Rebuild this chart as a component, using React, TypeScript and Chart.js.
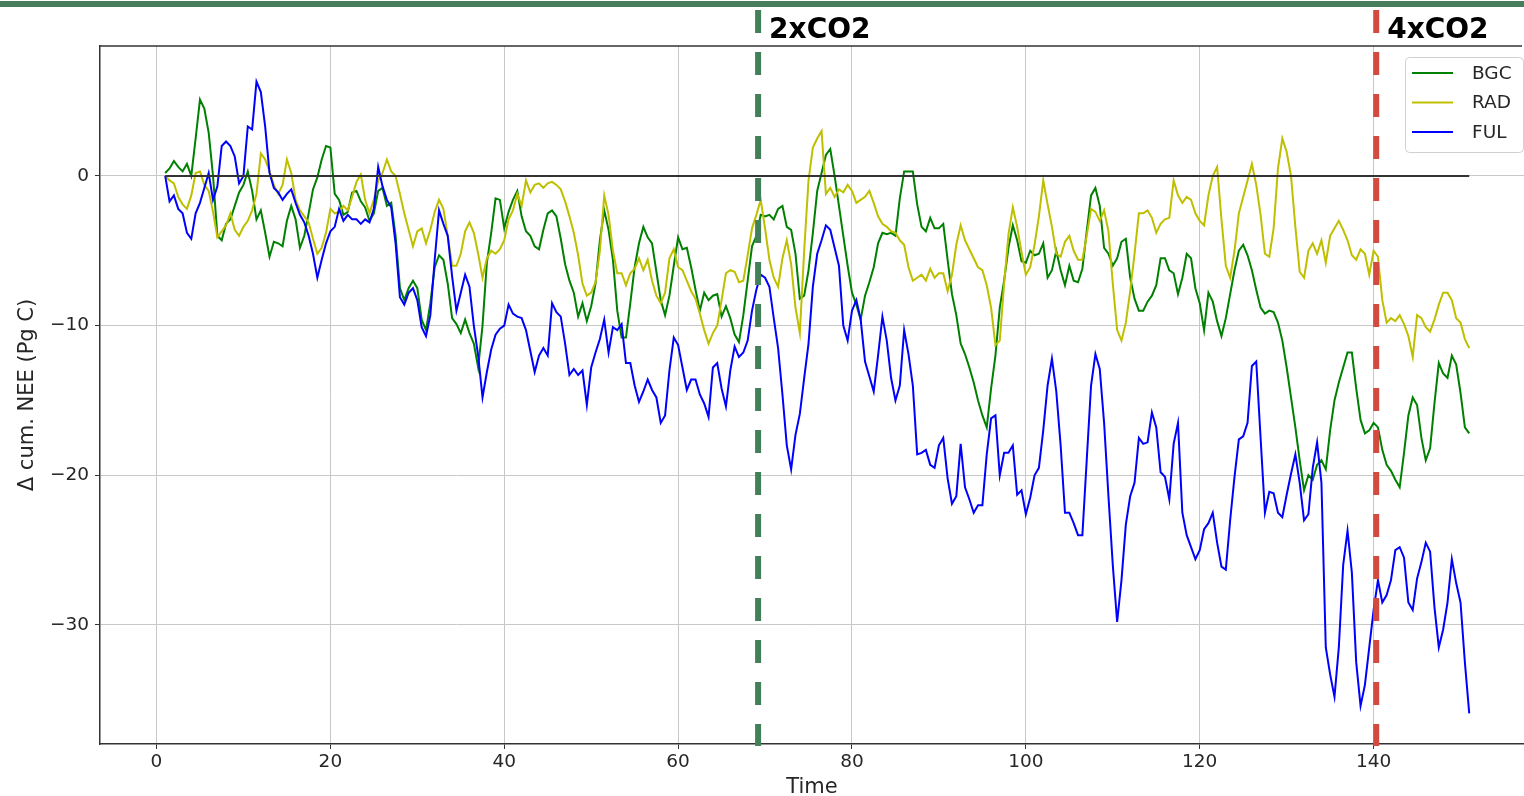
import React, { useEffect, useRef } from "react";
import { Chart, registerables } from "chart.js";

Chart.register(...registerables);

// Time axis of the series: years 1 .. 151, half-year samples
const YEAR_START = 1;
const YEAR_STEP = 0.5;

// Δ cumulative NEE (Pg C)
const BGC = [
  0.2, 0.5, 1.0, 0.6, 0.3, 0.8, 0.0, 2.5, 5.1, 4.5,
  2.9, 0.0, -4.0, -4.3, -3.2, -2.9, -2.0, -1.1, -0.6, 0.3,
  -1.0, -2.9, -2.3, -3.8, -5.4, -4.4, -4.5, -4.7, -3.0, -2.0,
  -2.9, -4.8, -4.0, -2.5, -0.9, -0.1, 1.1, 2.0, 1.9, -1.2,
  -1.6, -2.6, -2.4, -1.1, -1.0, -1.7, -2.1, -3.0, -2.5, -1.0,
  -0.8, -2.0, -1.8, -4.0, -7.5, -8.3, -7.5, -7.0, -7.5, -9.6,
  -10.3, -8.5, -6.1, -5.3, -5.6, -7.2, -9.5, -9.9, -10.5, -9.6,
  -10.5, -11.2, -12.8, -10.0, -5.8, -3.8, -1.5, -1.6, -3.5, -2.4,
  -1.6, -1.0, -2.7, -3.7, -4.0, -4.7, -4.9, -3.6, -2.5, -2.3,
  -2.7, -4.2, -5.9, -7.0, -7.8, -9.4, -8.5, -9.7, -8.7, -7.2,
  -4.3, -2.3, -3.6, -5.6, -9.0, -10.8, -10.8, -8.5, -6.1, -4.5,
  -3.4, -4.1, -4.5, -6.4, -8.3, -9.3, -8.0, -6.0, -4.1, -4.9,
  -4.8, -6.1, -7.6, -9.0, -7.8, -8.3, -8.0, -7.9, -9.4, -8.7,
  -9.5, -10.6, -11.1, -9.3, -7.0, -4.7, -4.0, -2.6, -2.7, -2.6,
  -2.9, -2.2, -2.0, -3.4, -3.6, -5.2, -8.2, -8.0, -6.3, -3.8,
  -1.0, 0.2, 1.4, 1.8, 0.0, -2.0, -4.0, -6.0, -7.8, -8.6,
  -9.6, -8.0, -7.1, -6.1, -4.5, -3.8, -3.9, -3.8, -4.0, -1.5,
  0.3, 0.3, 0.3, -1.9, -3.4, -3.7, -2.8, -3.5, -3.5, -3.2,
  -5.6, -7.9, -9.3, -11.2, -11.9, -12.8, -13.8, -15.0, -16.0, -16.8,
  -14.2, -12.0, -8.8, -7.0, -4.8, -3.3, -4.3, -5.7, -5.8, -5.0,
  -5.3, -5.2, -4.5, -6.8, -6.3, -5.0, -6.3, -7.3, -6.0, -7.0,
  -7.1, -6.2, -3.7, -1.3, -0.8, -2.0, -4.8, -5.2, -6.0, -5.5,
  -4.4, -4.2, -6.8, -8.2, -9.0, -9.0, -8.4, -8.0, -7.3, -5.5,
  -5.5, -6.3, -6.5, -7.9, -6.8, -5.2, -5.5, -7.5, -8.5, -10.3,
  -7.8, -8.4, -9.7, -10.7, -9.5, -7.9, -6.3, -5.0, -4.6, -5.3,
  -6.3, -7.6, -8.8, -9.2, -9.0, -9.1, -9.8, -11.0, -12.8, -14.8,
  -16.8, -19.0, -21.0, -20.0, -20.3, -19.3, -19.0, -19.6, -17.0, -15.0,
  -13.8, -12.8, -11.8, -11.8, -14.2, -16.3, -17.2, -17.0, -16.5, -16.8,
  -18.3, -19.3, -19.7, -20.3, -20.8, -18.5, -16.0, -14.8, -15.3, -17.5,
  -19.0, -18.2, -15.2, -12.5, -13.2, -13.5, -12.0, -12.6, -14.5, -16.8,
  -17.2,
];

const RAD = [
  0.0, -0.3, -0.5, -1.4, -1.9, -2.2, -1.3, 0.2, 0.3, -0.6,
  -1.0, -2.4, -4.1, -3.7, -3.3, -2.5, -3.6, -4.0, -3.4, -3.0,
  -2.3, -1.2, 1.5, 1.1, 0.3, -0.6, -1.2, -0.6, 1.1, 0.2,
  -1.6, -2.3, -2.7, -3.1, -4.2, -5.2, -4.8, -3.8, -2.2, -2.5,
  -2.4, -2.0, -2.3, -1.4, -0.4, 0.1, -1.6, -2.5, -1.6, -0.3,
  0.2, 1.1, 0.3, 0.0, -1.2, -2.5, -3.6, -4.7, -3.7, -3.5,
  -4.5, -3.6, -2.4, -1.6, -2.2, -4.0, -6.0, -6.0, -5.2, -3.7,
  -3.1, -3.8, -5.2, -6.8, -5.5, -5.0, -5.2, -4.9, -4.3, -2.9,
  -2.3, -1.2, -2.0, -0.3, -1.1, -0.6, -0.5, -0.8, -0.5, -0.4,
  -0.6, -0.9, -1.7, -2.7, -3.8, -5.3, -7.2, -8.0, -7.8, -7.1,
  -5.0, -1.3, -2.6, -5.0, -6.5, -6.5, -7.3, -6.5, -6.2, -5.5,
  -6.3, -5.6, -7.0, -8.0, -8.5, -7.8, -5.5, -4.9, -6.1, -6.3,
  -7.0, -7.7, -8.2, -9.2, -10.3, -11.2, -10.5, -10.0, -8.3, -6.5,
  -6.3, -6.4, -7.1, -7.0, -5.3, -3.5, -2.6, -1.6, -3.5, -5.6,
  -6.8, -7.4, -5.5, -4.3, -5.9, -8.8, -10.5, -5.0, -0.3, 1.9,
  2.5, 3.0, -1.2, -0.8, -1.4, -0.9, -1.1, -0.6, -1.0, -1.8,
  -1.6, -1.4, -1.0, -1.8, -2.7, -3.2, -3.4, -3.7, -3.8, -4.3,
  -4.6, -6.1, -7.0, -6.8, -6.6, -7.0, -6.2, -6.8, -6.5, -6.5,
  -7.7, -6.6, -4.6, -3.3, -4.3, -4.9, -5.5, -6.1, -6.3, -7.3,
  -8.8, -11.3, -11.0, -7.2, -3.9, -2.1, -3.4, -5.1, -6.6, -6.1,
  -4.6, -2.7, -0.3, -1.9, -3.4, -5.2, -5.4, -4.4, -4.0, -5.0,
  -5.6, -5.6, -4.0, -2.2, -2.4, -3.0, -2.3, -3.7, -7.2, -10.3,
  -11.0, -9.8, -7.7, -5.2, -2.5, -2.5, -2.3, -2.8, -3.8, -3.2,
  -2.9, -2.8, -0.3, -1.3, -1.8, -1.4, -1.6, -2.5, -3.0, -3.3,
  -1.3, 0.0, 0.6, -2.9, -6.0, -6.8, -5.0, -2.5, -1.4, -0.3,
  0.8, -0.6, -2.6, -5.2, -5.4, -3.5, 0.5, 2.5, 1.6, 0.0,
  -3.4, -6.4, -6.8, -5.0, -4.5, -5.2, -4.3, -5.8, -4.0, -3.5,
  -3.0, -3.6, -4.3, -5.3, -5.6, -4.9, -5.2, -6.6, -5.0, -5.4,
  -8.3, -9.8, -9.5, -9.7, -9.3, -9.9, -10.7, -12.1, -9.3, -9.5,
  -10.1, -10.4, -9.6, -8.6, -7.8, -7.8, -8.3, -9.5, -9.8, -10.9,
  -11.5,
];

const FUL = [
  0.0, -1.7, -1.3, -2.2, -2.5, -3.8, -4.2, -2.5, -1.8, -0.8,
  0.2, -1.6, -0.7, 2.0, 2.3, 2.0, 1.3, -0.5, 0.0, 3.3,
  3.1, 6.3, 5.6, 3.3, 0.2, -0.8, -1.1, -1.6, -1.2, -0.9,
  -1.8, -2.6, -3.1, -4.0, -5.2, -6.8, -5.6, -4.5, -3.7, -3.4,
  -2.2, -3.0, -2.6, -2.9, -2.9, -3.2, -2.9, -3.1, -2.2, 0.6,
  -0.7, -1.6, -2.1, -4.5, -8.1, -8.6, -7.8, -7.5, -8.3, -10.1,
  -10.7, -9.3, -5.6, -2.3, -3.2, -4.0, -6.7, -9.0, -7.8, -6.6,
  -7.4, -10.0, -12.0, -14.8, -13.1, -11.6, -10.6, -10.2, -10.0, -8.6,
  -9.2, -9.4, -9.5, -10.3, -11.7, -13.1, -12.0, -11.5, -12.0, -8.5,
  -9.1, -9.4, -11.2, -13.3, -12.9, -13.3, -13.0, -15.3, -12.8, -11.8,
  -10.9, -9.6, -11.8, -10.1, -10.3, -9.9, -12.5, -12.5, -14.0, -15.1,
  -14.4, -13.6, -14.3, -14.8, -16.5, -16.0, -13.0, -10.8, -11.3, -12.8,
  -14.3, -13.6, -13.6, -14.6, -15.2, -16.1, -12.8, -12.5, -14.2, -15.4,
  -13.0, -11.4, -12.1, -11.8, -11.0, -9.0, -7.6, -6.6, -6.8, -7.4,
  -9.5, -11.5, -14.6, -18.0, -19.6, -17.3, -15.9, -13.5, -11.2, -7.4,
  -5.2, -4.3, -3.3, -3.6, -4.8, -6.0, -10.0, -11.0, -9.0, -8.3,
  -9.6, -12.4, -13.4, -14.4, -12.0, -9.4, -11.0, -13.5, -15.0, -14.0,
  -10.3, -11.9, -14.0, -18.6, -18.5, -18.3, -19.3, -19.5, -18.0, -17.5,
  -20.2, -21.9, -21.4, -17.9, -20.8, -21.6, -22.5, -22.0, -22.0, -18.6,
  -16.2, -16.0, -20.0, -18.5, -18.5, -18.0, -21.3, -21.0, -22.6, -21.5,
  -20.0, -19.5, -17.0, -14.0, -12.2, -14.4, -18.0, -22.5, -22.5, -23.2,
  -24.0, -24.0, -19.0, -14.0, -11.9, -12.9, -16.5, -21.4, -26.0, -29.8,
  -27.0, -23.3, -21.4, -20.5, -17.5, -17.9, -17.8, -15.8, -16.8, -19.8,
  -20.1, -21.6, -17.9, -16.5, -22.5, -24.0, -24.8, -25.6, -25.0, -23.6,
  -23.2, -22.5, -24.5, -26.1, -26.3, -23.0, -20.1, -17.6, -17.4, -16.5,
  -12.7, -12.4, -17.5, -22.5, -21.1, -21.2, -22.5, -22.8, -21.3, -19.9,
  -18.6, -20.5, -23.0, -22.6, -19.5, -17.8, -20.5, -31.5, -33.3, -34.8,
  -31.5, -26.0, -23.7, -26.5, -32.5, -35.4, -34.0, -31.5, -29.0, -27.0,
  -28.5, -28.0, -27.0, -25.0, -24.8, -25.5, -28.5, -29.0, -26.9, -25.8,
  -24.5, -25.1, -28.8, -31.5, -30.3, -28.5, -25.6, -27.2, -28.5, -32.5,
  -35.9,
];

const SERIES_LABELS = ["BGC", "RAD", "FUL"];
const SERIES_COLORS = ["#008000", "#bfbf00", "#0000ff"];
const ZERO_LINE_X = [1, 151];
const X_TICKS = [0, 20, 40, 60, 80, 100, 120, 140];
const Y_TICKS = [-30, -20, -10, 0];
const CO2_MARKERS = [69.2, 140.3];
const CO2_LABELS = ["2xCO2", "4xCO2"];
const CO2_COLORS = ["#43805a", "#d24b3e"];

const FONT = "'DejaVu Sans', sans-serif";
const TEXT = "#262626";

const toPoints = (vals: number[]) =>
  vals.map((v, i) => ({ x: YEAR_START + i * YEAR_STEP, y: v }));

const overlayPlugin = {
  id: "overlay",
  afterDraw(chart: any) {
    const { ctx, chartArea: a, scales } = chart;
    const x = scales.x;
    ctx.save();
    // top spine
    ctx.strokeStyle = "#333333";
    ctx.lineWidth = 1.5;
    ctx.beginPath();
    ctx.moveTo(a.left, a.top);
    ctx.lineTo(a.right - 2, a.top);
    ctx.stroke();

    // legend box
    const lx = a.right - 119;
    const ly = a.top + 11;
    const lw = 118;
    const lh = 95;
    ctx.fillStyle = "rgba(255,255,255,0.85)";
    ctx.strokeStyle = "#d0d0d0";
    ctx.lineWidth = 1;
    ctx.beginPath();
    (ctx as any).roundRect(lx + 0.5, ly + 0.5, lw, lh, 4);
    ctx.fill();
    ctx.stroke();
    ctx.font = `18.5px ${FONT}`;
    ctx.textBaseline = "middle";
    ctx.textAlign = "left";
    SERIES_LABELS.forEach((lab, i) => {
      const y = ly + 16 + i * 29.5;
      ctx.strokeStyle = SERIES_COLORS[i];
      ctx.lineWidth = 2;
      ctx.beginPath();
      ctx.moveTo(lx + 7, y);
      ctx.lineTo(lx + 48, y);
      ctx.stroke();
      ctx.fillStyle = TEXT;
      ctx.fillText(lab, lx + 67, y + 1);
    });

    // slide header bar
    ctx.fillStyle = "#467d5a";
    ctx.fillRect(0, 1, chart.width, 6);

    // CO2 markers
    CO2_MARKERS.forEach((t, i) => {
      const px = x.getPixelForValue(t);
      ctx.strokeStyle = CO2_COLORS[i];
      ctx.lineWidth = 6;
      ctx.setLineDash([23, 19]);
      ctx.beginPath();
      ctx.moveTo(px, 10);
      ctx.lineTo(px, a.bottom + 2);
      ctx.stroke();
      ctx.setLineDash([]);
      ctx.fillStyle = "#000000";
      ctx.font = `bold 28px ${FONT}`;
      ctx.textBaseline = "alphabetic";
      ctx.textAlign = "left";
      ctx.fillText(CO2_LABELS[i], px + 11, 38);
    });
    ctx.restore();
  },
};

const fmt = (v: number) => (v < 0 ? "\u2212" + Math.abs(v) : String(v));

export default function App() {
  const ref = useRef<HTMLCanvasElement | null>(null);
  useEffect(() => {
    if (!ref.current) return;
    const series = [BGC, RAD, FUL];
    const datasets: any[] = series.map((vals, i) => ({
      label: SERIES_LABELS[i],
      data: toPoints(vals),
      borderColor: SERIES_COLORS[i],
      backgroundColor: SERIES_COLORS[i],
      borderWidth: 2,
      pointRadius: 0,
      tension: 0,
      order: 3 - i,
    }));
    datasets.push({
      label: "",
      data: ZERO_LINE_X.map((t) => ({ x: t, y: 0 })),
      borderColor: "#333333",
      borderWidth: 2,
      pointRadius: 0,
      order: 0,
    });
    const chart = new Chart(ref.current, {
      type: "line",
      data: { datasets },
      options: {
        animation: false,
        responsive: false,
        devicePixelRatio: 1,
        layout: { padding: { top: 46, right: 0, left: 0, bottom: 0 } },
        plugins: { legend: { display: false }, tooltip: { enabled: false } },
        scales: {
          x: {
            type: "linear",
            min: -6.5,
            max: 157.3,
            afterBuildTicks: (s: any) => {
              s.ticks = X_TICKS.map((v) => ({ value: v }));
            },
            afterFit: (s: any) => {
              s.height = 52;
            },
            grid: { color: "#c8c8c8", lineWidth: 1, tickLength: 5, tickColor: "#333333" },
            border: { color: "#333333", width: 1.5 },
            ticks: {
              font: { family: FONT, size: 18.5 },
              color: TEXT,
              padding: 2,
              maxRotation: 0,
              autoSkip: false,
              callback: (v: any) => fmt(Number(v)),
            },
            title: {
              display: true,
              text: "Time",
              font: { family: FONT, size: 21, lineHeight: 0.8 },
              color: TEXT,
              padding: { top: 0, bottom: 0 },
            },
          },
          y: {
            type: "linear",
            min: -37.95,
            max: 8.68,
            afterBuildTicks: (s: any) => {
              s.ticks = Y_TICKS.map((v) => ({ value: v }));
            },
            afterFit: (s: any) => {
              s.width = 100;
            },
            grid: { color: "#c8c8c8", lineWidth: 1, tickLength: 5, tickColor: "#333333" },
            border: { color: "#333333", width: 1.5 },
            ticks: {
              font: { family: FONT, size: 18.5 },
              color: TEXT,
              padding: 6,
              autoSkip: false,
              callback: (v: any) => fmt(Number(v)),
            },
            title: {
              display: true,
              text: "Δ cum. NEE (Pg C)",
              font: { family: FONT, size: 21 },
              color: TEXT,
              padding: { top: 15, bottom: 0 },
            },
          },
        },
      },
      plugins: [overlayPlugin],
    } as any);
    return () => chart.destroy();
  }, []);
  return (
    <div style={{ position: "absolute", left: 0, top: 0, width: 1524, height: 796, background: "#fff" }}>
      <canvas ref={ref} width={1524} height={796} style={{ display: "block" }} />
    </div>
  );
}
